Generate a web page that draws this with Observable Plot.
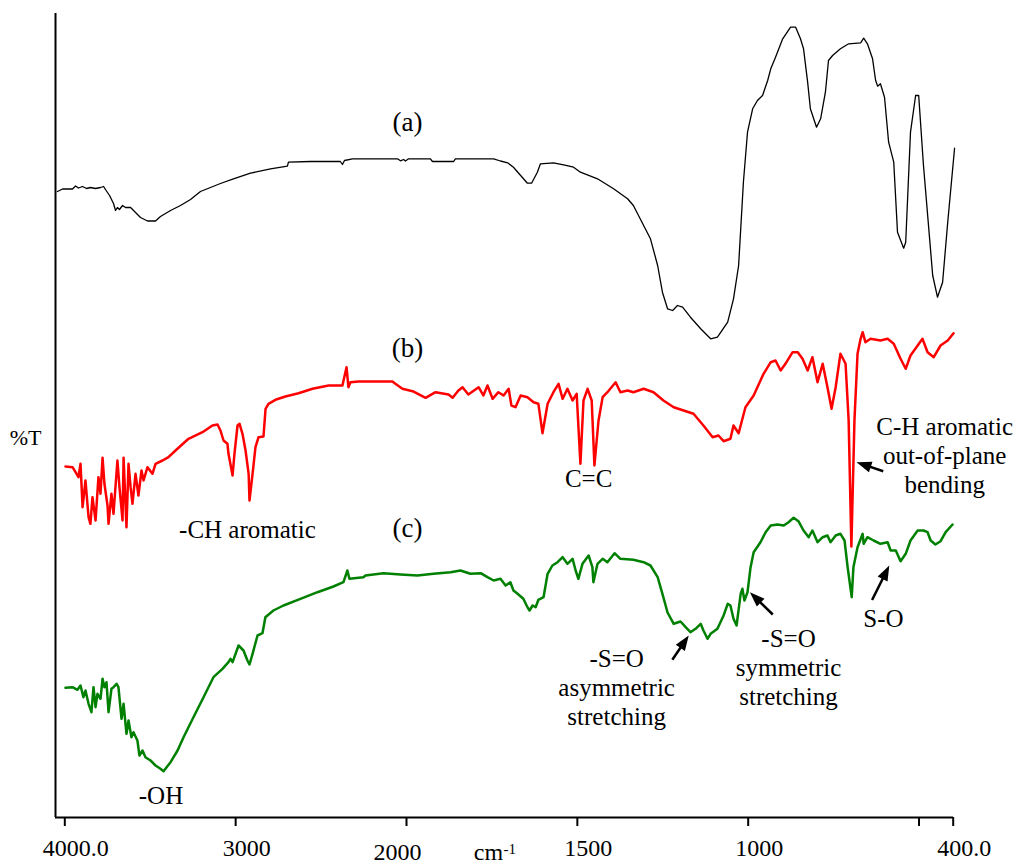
<!DOCTYPE html>
<html>
<head>
<meta charset="utf-8">
<script src="https://cdn.jsdelivr.net/npm/d3@7"></script>
<script src="https://cdn.jsdelivr.net/npm/@observablehq/plot@0.6"></script>
<style>
html, body { margin: 0; padding: 0; background: #fff; overflow: hidden; }
</style>
</head>
<body>
<div id="chart"></div>
<script>
// ---------- data (wavenumber in cm-1, transmittance in arbitrary offset %T units) ----------
const waveA = [4043,4013,3955,3937,3920,3896,3873,3850,3820,3791,3773,3762,3738,3715,3703,3692,3680,3662,3645,3615,3586,3557,3516,3469,3440,3381,3323,3264,3206,3089,3013,2913,2796,2697,2691,2562,2387,2375,2363,2316,2053,2035,2017,2006,1994,1930,1924,1862,1857,1745,1725,1704,1687,1666,1646,1634,1617,1608,1570,1540,1511,1491,1441,1394,1353,1336,1306,1286,1265,1251,1236,1221,1207,1192,1169,1139,1110,1090,1060,1043,1028,1014,1002,987,973,958,943,934,920,899,876,861,847,838,826,818,800,788,774,765,753,730,706,671,662,651,636,627,621,613,601,589,574,563,545,539,525,510,501,487,460,446,431,416,396];
const transA = [626,628.5,628.5,631.5,629.5,631,629,630,629,630,631,628,622,614,607,610,608,612,610,610,605,600,596.5,596.5,601,607,612,618,626,634,638.7,644.3,648.7,651.3,655.3,656,656,653,657,658.7,658.7,656.7,658,656.5,658.7,658.7,656,656,658.7,658.7,656.5,654.7,650.3,642,634.3,634.3,645.3,653.7,654.7,652.7,650.3,645.3,638.7,628.7,618.7,612,592,578.7,552,525.3,508.7,507,512,510.3,500.3,488.7,478.7,480.3,495.3,518.7,552,635.3,685.3,708.7,717,722,737,748.7,760.3,778.7,790.3,790.3,778.7,768.7,735.3,708.7,690.3,698.7,725.3,757,762,768.7,773.7,774.7,779.3,773.7,758.7,737,731.3,733.7,720.3,675.3,655.3,585.3,569.3,575.3,685.3,722,722,652,542,520.3,535.3,595.3,669.3];

const waveB = [3996,3955,3937,3920,3908,3896,3879,3861,3850,3838,3820,3803,3791,3779,3768,3750,3744,3727,3715,3692,3680,3662,3656,3639,3627,3615,3604,3586,3569,3551,3539,3516,3487,3469,3428,3393,3352,3276,3194,3136,3106,3089,3071,3048,3042,3018,3007,2989,2977,2960,2942,2924,2919,2901,2884,2866,2837,2825,2808,2767,2709,2632,2550,2456,2375,2351,2340,2328,2281,2082,2065,2024,1982,1944,1915,1877,1865,1848,1836,1819,1789,1775,1763,1748,1731,1716,1701,1693,1681,1666,1646,1628,1614,1602,1587,1570,1555,1543,1529,1514,1502,1491,1482,1470,1458,1450,1438,1426,1412,1388,1374,1353,1336,1306,1277,1248,1218,1189,1160,1131,1104,1087,1072,1052,1043,1028,1008,984,955,934,920,905,891,870,855,841,826,812,797,782,768,756,744,730,715,706,698,689,680,671,665,657,642,613,592,574,554,539,525,504,490,475,457,437,416,399];
const transB = [351,350.3,345.3,340.3,353.7,310.3,337,300.3,293.7,320.3,297,340.3,323.7,359.7,333.7,312,293.7,323.7,303.7,357,330.3,297,359.7,290.3,353.7,330.3,313.7,343.7,322,347,337,350.3,343.7,353.7,357,360.3,367,378.7,385.3,392,393,387,377,373.7,363.7,342,363.7,392,393.7,383.7,367,343.7,317,343.7,370.3,380.3,381,408.7,413.7,417.7,421,424.3,428.7,432,432,450.3,430.3,435.3,436,436,433.7,428.7,426.3,419.7,425.3,423,419.7,427,430.3,423,430.3,422,432,418.7,425.3,422,428.7,412,410.3,422,420.3,415.3,413.7,384.3,413.7,425.3,433.7,418.7,428.7,417,423.7,353.7,417,428.7,417,352,397,420.3,425.3,435.3,425.3,427,425.3,428.7,425.3,417,410.3,407,403.7,392,380.3,382,376.3,378.7,392,384.3,410.3,422,443.7,455.3,457,447,453.7,465.3,465.3,458.7,447,460.3,435.3,453.7,430.3,408.7,430.3,463.7,453.7,397,271,397,463.7,478.7,485.3,475.3,478.7,477,478.7,473.7,458.7,448.7,462,472,478.7,465.3,460.3,472,477,484.3];

const waveC = [3996,3955,3926,3908,3891,3879,3861,3844,3832,3820,3809,3791,3779,3768,3756,3744,3727,3715,3697,3686,3668,3656,3639,3627,3610,3598,3575,3563,3545,3528,3498,3469,3440,3422,3411,3381,3340,3305,3247,3188,3130,3077,3042,3030,3018,2983,2954,2931,2919,2901,2872,2843,2826,2779,2720,2621,2521,2428,2369,2346,2334,2252,2240,2135,2035,1968,1921,1871,1842,1813,1783,1763,1745,1725,1710,1696,1687,1675,1658,1646,1640,1631,1622,1614,1599,1587,1573,1558,1543,1529,1514,1505,1497,1485,1467,1456,1453,1441,1426,1412,1391,1374,1336,1306,1286,1265,1251,1236,1218,1198,1183,1169,1154,1139,1131,1119,1110,1090,1072,1060,1052,1043,1034,1022,1017,1011,1002,993,984,964,949,934,914,896,882,867,853,838,823,812,797,782,768,759,744,730,718,709,697,692,680,665,662,651,633,613,592,583,568,554,539,525,504,487,475,466,452,437,422,402];
const transC = [129.7,130.3,127.7,132,120.3,127,113.7,105.3,130.3,110.3,123.7,118.7,138.7,130.3,135.3,105.3,128.7,130.3,133.7,130.3,98.7,113.7,83.7,97,80.3,85.3,77,62,67,60.3,57,52,48.7,46.3,48.7,55.3,67,80.3,100.3,120.3,140.3,148.7,155.3,158.7,155.3,172,167,157,153,163.7,182,184.3,200.3,207,212,218.7,225.3,231,235.3,247,238.7,240.3,242,244.3,243,242,243.7,245.3,247,243.7,244.3,240.3,237,238.7,232,235.3,227,223.7,218.7,210.3,207,212,210.3,217.7,220.3,243.7,252,255.3,260.3,253.7,258.7,247,238.7,253.7,262,250.3,235.3,253.7,258.7,255.3,264.3,258.7,257.7,255.3,252,240.3,223.7,205,193.7,196,190.3,185.3,188.7,193.7,187,178.7,183.7,188.7,202,213.7,212,198.7,192,223.7,228.7,217,225.3,250.3,265.3,275.3,285.3,292,293,292,295.3,299.7,296.3,287,280.3,287,275.3,280.3,282,275.3,282,283.7,277,250.3,220.3,250.3,270.3,283.7,273.7,280.3,277,273.7,275.3,267,267,256.3,263.7,277,287,287,285.3,277,273,276.3,285.3,293];

// axis ticks and labels
const tickValues = [4000, 3000, 2000, 1500, 1000, 500, 400];
const tickLabels = ["4000.0", "3000", "2000", "1500", "1000", "", "400.0"];

// series labels
const seriesNames = ["(a)", "(b)", "(c)"];
const seriesLabelWave = [1997, 1997, 1997];
const seriesLabelT = [706, 480, 300];

// band annotations
const annoText = ["-CH aromatic", "C=C", "C-H aromatic\nout-of-plane\nbending", "-OH",
                  "-S=O\nasymmetric\nstretching", "-S=O\nsymmetric\nstretching", "S-O"];
const annoWave = [2931, 1467, 425, 3437, 1385, 882, 604];
const annoT = [300, 351, 403, 34, 170.7, 191.3, 211];

// annotation arrows (tail -> tip)
const arrowTailWave = [604.7, 1222, 928, 637.5];
const arrowTailT = [346.3, 157.7, 203, 217.5];
const arrowTipWave = [683, 1174, 995, 587];
const arrowTipT = [355.3, 182, 225.3, 252];

// ---------- chart ----------
const W = 1016, H = 866, mL = 55, mR = 63, mT = 13, mB = 49;
const xOpts = {type: "linear", domain: [4000, 2000, 400], range: [64.3, 406, 952.7]};
const yOpts = {domain: [0, 804]};
const xs = Plot.scale({x: xOpts});
const ys = Plot.scale({y: {...yOpts, range: [H - mB, mT]}});

const rows = (w, t) => w.map((v, i) => ({wave: v, t: t[i]}));
const dataA = rows(waveA, transA), dataB = rows(waveB, transB), dataC = rows(waveC, transC);

const arrows = arrowTailWave.map((w, i) => {
  const x1 = xs.apply(w), y1 = ys.apply(arrowTailT[i]);
  const x2 = xs.apply(arrowTipWave[i]), y2 = ys.apply(arrowTipT[i]);
  const len = Math.hypot(x2 - x1, y2 - y1), ux = (x2 - x1) / len, uy = (y2 - y1) / len;
  const back = 10;
  return {
    x1: w, y1: arrowTailT[i], x2: arrowTipWave[i], y2: arrowTipT[i],
    bx: xs.invert(x2 - ux * back), by: ys.invert(y2 - uy * back),
    angle: Math.atan2(ux, -uy) * 180 / Math.PI
  };
});
const yAxisWave = xs.invert(mL);
const labelsMain = tickLabels.map((l, i) => tickValues[i] === 2000 ? "" : l);

const font = "'Liberation Serif', 'Times New Roman', serif";
const chart = Plot.plot({
  width: W, height: H,
  marginLeft: mL, marginRight: mR, marginTop: mT, marginBottom: mB,
  style: {fontFamily: font, fontSize: "24px", background: "#fff", color: "#000"},
  x: xOpts,
  y: {...yOpts, axis: null},
  marks: [
    Plot.ruleY([0], {stroke: "#000", strokeWidth: 2}),
    Plot.ruleX([yAxisWave], {stroke: "#000", strokeWidth: 2}),
    Plot.axisX({ticks: tickValues, tickSize: 9, strokeWidth: 2, fill: "none", label: null}),
    Plot.text(tickValues, {x: d => d, text: (d, i) => labelsMain[i], frameAnchor: "bottom",
      textAnchor: "middle", lineAnchor: "top", dy: 21, dx: 11, fontSize: 24, fill: "#000"}),
    Plot.text([tickValues[2]], {x: d => d, text: () => tickLabels[2], frameAnchor: "bottom",
      textAnchor: "middle", lineAnchor: "top", dy: 25, dx: -9, fontSize: 24, fill: "#000"}),
    Plot.text(["cm"], {x: 1760, frameAnchor: "bottom", textAnchor: "middle", lineAnchor: "top",
      dy: 25, fontSize: 24, fill: "#000"}),
    Plot.text(["-1"], {x: 1716, frameAnchor: "bottom", textAnchor: "start", lineAnchor: "top",
      dy: 25.5, fontSize: 15, fill: "#000"}),
    Plot.text(["%T"], {frameAnchor: "left", textAnchor: "middle", lineAnchor: "top",
      dx: -30, dy: 14, fontSize: 22, fill: "#000"}),
    Plot.line(dataC, {x: "wave", y: "t", stroke: "#008000", strokeWidth: 2.5, strokeLinejoin: "round"}),
    Plot.line(dataB, {x: "wave", y: "t", stroke: "#ff0000", strokeWidth: 2.5, strokeLinejoin: "round"}),
    Plot.line(dataA, {x: "wave", y: "t", stroke: "#000", strokeWidth: 1.3, strokeLinejoin: "round"}),
    Plot.text(seriesNames, {x: seriesLabelWave, y: seriesLabelT, text: d => d, fontSize: 27,
      textAnchor: "middle", lineAnchor: "top", fill: "#000"}),
    Plot.text(annoText, {x: annoWave, y: annoT, text: d => d, fontSize: 25, lineHeight: 1.16,
      textAnchor: "middle", lineAnchor: "top", fill: "#000"}),
    Plot.link(arrows, {x1: "x1", y1: "y1", x2: "bx", y2: "by", stroke: "#000", strokeWidth: 2.5}),
    Plot.vector(arrows, {x: "x2", y: "y2", rotate: "angle", length: 15, shape: "spike", r: 5.5,
      anchor: "end", fill: "#000", stroke: "none", fillOpacity: 1})
  ]
});
document.getElementById("chart").appendChild(chart);
</script>
</body>
</html>
